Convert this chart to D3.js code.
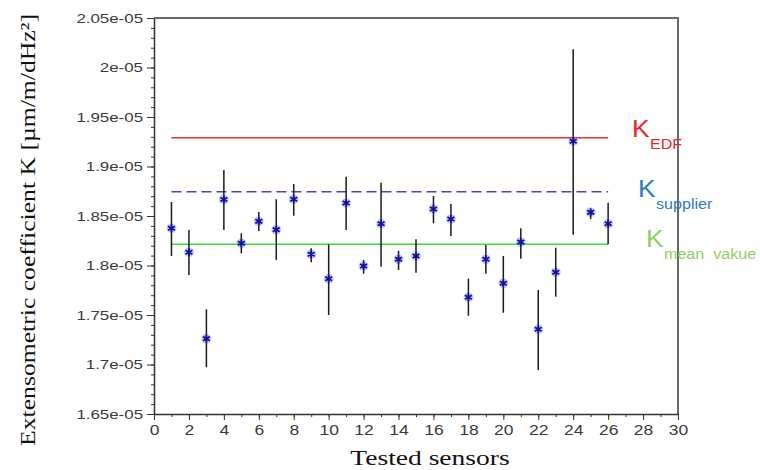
<!DOCTYPE html>
<html>
<head>
<meta charset="utf-8">
<script src="https://cdn.jsdelivr.net/npm/d3@7"></script>
<style>
  body { margin: 0; background: #fff; }
  svg { display: block; }
  .tick text { font-family: "Liberation Sans", Arial, sans-serif; fill: #3a3a3a; }
  .serif { font-family: "Liberation Serif", "Times New Roman", serif; fill: #111; }
  .leg { font-family: "Liberation Sans", Arial, sans-serif; }
</style>
</head>
<body>
<svg width="760" height="470"></svg>
<script>
// sensors 1..26, values in units of 1e-5 um/m/dHz^2
var sensors = d3.range(1, 27);
var kValues = [1.8376, 1.8133, 1.7261, 1.8667, 1.8224, 1.8446, 1.8362, 1.8669, 1.8113, 1.7867,
               1.8631, 1.7995, 1.8422, 1.8063, 1.8096, 1.8571, 1.8470, 1.7679, 1.8063, 1.7820,
               1.8237, 1.7356, 1.7931, 1.9255, 1.8537, 1.8422];
var kHigh   = [1.8641, 1.8359, 1.7558, 1.8965, 1.8325, 1.8540, 1.8669, 1.8823, 1.8174, 1.8214,
               1.8897, 1.8056, 1.8836, 1.8149, 1.8265, 1.8702, 1.8621, 1.7867, 1.8207, 1.8096,
               1.8376, 1.7753, 1.8180, 2.0184, 1.8571, 1.8634];
var kLow    = [1.8096, 1.7904, 1.6972, 1.8359, 1.8123, 1.8348, 1.8056, 1.8503, 1.8032, 1.7500,
               1.8359, 1.7917, 1.7988, 1.7955, 1.7927, 1.8426, 1.8298, 1.7493, 1.7917, 1.7523,
               1.8069, 1.6944, 1.7685, 1.8311, 1.8470, 1.8214];

var refNames  = ["EDF", "supplier", "mean  vakue"];
var refValues = [1.9290, 1.8745, 1.8214];

var yTicks = [1.65, 1.70, 1.75, 1.80, 1.85, 1.90, 1.95, 2.00, 2.05];
var yTickLabels = ["1.65e-05", "1.7e-05", "1.75e-05", "1.8e-05", "1.85e-05", "1.9e-05", "1.95e-05", "2e-05", "2.05e-05"];
var xTicks = d3.range(0, 31, 2);

var svg = d3.select("svg");
var plotL = 154, plotR = 678, plotT = 18, plotB = 414;
var stretch = 1.25;   // the original picture is a bit wider than tall

var x = d3.scaleLinear().domain([0, 30]).range([plotL, plotR]);
var y = d3.scaleLinear().domain([1.65, 2.05]).range([plotB, plotT]);

function widen(sel, f) {
  sel.each(function() {
    var len = this.getComputedTextLength();
    d3.select(this).attr("textLength", len * f).attr("lengthAdjust", "spacingAndGlyphs");
  });
}

// frame (top and right)
svg.append("path")
  .attr("d", "M" + plotL + "," + plotT + "H" + plotR + "V" + plotB)
  .attr("fill", "none")
  .attr("stroke", "#6a6a6a")
  .attr("stroke-width", 2);

// minor ticks
svg.append("g")
  .attr("transform", "translate(" + plotL + ",0)")
  .call(d3.axisLeft(y).tickValues(d3.range(0, 41).map(function(i) { return 1.65 + i * 0.01; }))
    .tickSize(3).tickFormat("").tickSizeOuter(0))
  .call(function(g) { g.select(".domain").remove(); g.selectAll("line").attr("stroke", "#333"); });

svg.append("g")
  .attr("transform", "translate(0," + plotB + ")")
  .call(d3.axisBottom(x).tickValues(d3.range(0, 31)).tickSize(3).tickFormat("").tickSizeOuter(0))
  .call(function(g) { g.select(".domain").remove(); g.selectAll("line").attr("stroke", "#333"); });

// main axes
var yAxis = svg.append("g")
  .attr("transform", "translate(" + plotL + ",0)")
  .call(d3.axisLeft(y).tickValues(yTicks)
    .tickFormat(function(d, i) { return yTickLabels[i]; })
    .tickSize(7).tickPadding(4).tickSizeOuter(0));
yAxis.select(".domain").attr("stroke", "#333").attr("stroke-width", 1.5);
yAxis.selectAll("line").attr("stroke", "#333");
// stretch the labels but keep their right edge fixed
yAxis.selectAll("text")
  .style("font-size", "13.5px")
  .each(function() {
    var len = this.getComputedTextLength() * stretch;
    d3.select(this)
      .attr("text-anchor", "start")
      .attr("x", -11 - len)
      .attr("textLength", len)
      .attr("lengthAdjust", "spacingAndGlyphs");
  });

var xAxis = svg.append("g")
  .attr("transform", "translate(0," + plotB + ")")
  .call(d3.axisBottom(x).tickValues(xTicks).tickSize(6).tickPadding(5).tickSizeOuter(0));
xAxis.select(".domain").attr("stroke", "#333").attr("stroke-width", 1.5);
xAxis.selectAll("line").attr("stroke", "#333");
xAxis.selectAll("text")
  .style("font-size", "14px")
  .each(function() {
    var len = this.getComputedTextLength() * stretch;
    d3.select(this)
      .attr("text-anchor", "start")
      .attr("x", -len / 2)
      .attr("textLength", len)
      .attr("lengthAdjust", "spacingAndGlyphs");
  });

// reference lines
var lineColors = ["#e53030", "#4646c4", "#3ddc3d"];
var labelColors = ["#e8262a", "#2b7bc4", "#8fcf5f"];

svg.append("g").selectAll("line")
  .data(refValues)
  .enter().append("line")
  .attr("x1", x(1)).attr("x2", x(26))
  .attr("y1", function(d) { return y(d); })
  .attr("y2", function(d) { return y(d); })
  .attr("stroke", function(d, i) { return lineColors[i]; })
  .attr("stroke-width", 1.5)
  .attr("stroke-dasharray", function(d, i) { return i == 1 ? "10,5" : null; });

// error bars
svg.append("g").selectAll("line")
  .data(sensors)
  .enter().append("line")
  .attr("x1", function(d) { return x(d); })
  .attr("x2", function(d) { return x(d); })
  .attr("y1", function(d, i) { return y(kHigh[i]); })
  .attr("y2", function(d, i) { return y(kLow[i]); })
  .attr("stroke", "#1a1a1a")
  .attr("stroke-width", 1.5);

// markers
var marks = svg.append("g").selectAll("g")
  .data(sensors)
  .enter().append("g")
  .attr("transform", function(d, i) { return "translate(" + x(d) + "," + y(kValues[i]) + ")"; });

marks.append("circle")
  .attr("r", 5)
  .attr("fill", "#5a5ae0")
  .attr("opacity", 0.3);

marks.append("path")
  .attr("d", d3.symbol(d3.symbolAsterisk, 45))
  .attr("fill", "none")
  .attr("stroke", "#12129a")
  .attr("stroke-width", 1.8);

// legend labels K_xxx
var legX = [632, 638, 646];
var legY = [137, 197, 247];
var leg = svg.append("g").selectAll("g")
  .data(refNames)
  .enter().append("g")
  .attr("class", "leg")
  .attr("fill", function(d, i) { return labelColors[i]; });

var kText = leg.append("text")
  .attr("x", function(d, i) { return legX[i]; })
  .attr("y", function(d, i) { return legY[i]; })
  .style("font-size", "24px")
  .text("K");
widen(kText, 1.1);

var subText = leg.append("text")
  .attr("x", function(d, i) { return legX[i] + 18; })
  .attr("y", function(d, i) { return legY[i] + 12; })
  .style("font-size", "14px")
  .style("white-space", "pre")
  .text(function(d) { return d; });
widen(subText, 1.15);

// axis titles
var xt = svg.append("text")
  .attr("class", "serif")
  .attr("x", (plotL + plotR) / 2 + 14)
  .attr("y", 465)
  .attr("text-anchor", "middle")
  .style("font-size", "22px")
  .text("Tested sensors");
widen(xt, 1.25);

var yt = svg.append("text")
  .attr("class", "serif")
  .attr("transform", "translate(35," + 230 + ") rotate(-90)")
  .attr("text-anchor", "middle")
  .style("font-size", "22px")
  .text("Extensometric coefficient K [\u00b5m/m/dHz\u00b2]");
yt.attr("textLength", 432).attr("lengthAdjust", "spacingAndGlyphs");
</script>
</body>
</html>
